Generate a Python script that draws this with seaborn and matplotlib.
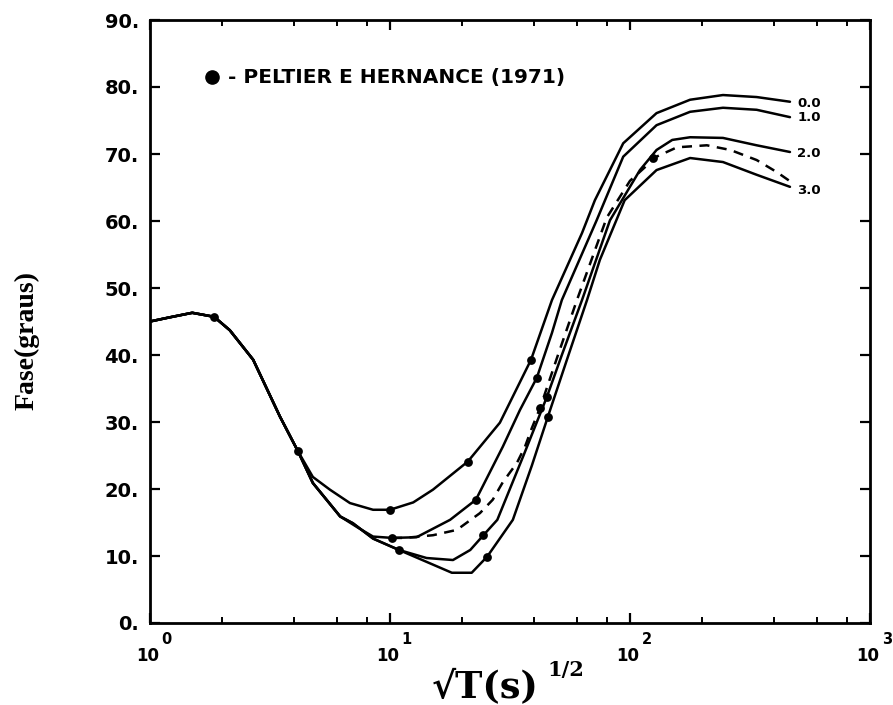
import numpy as np
import pandas as pd
import matplotlib
matplotlib.use("Agg")
import matplotlib.pyplot as plt
import seaborn as sns
from matplotlib.ticker import FixedLocator, FixedFormatter, NullFormatter

# ---------------- data ----------------
common_x = [1.0, 1.2, 1.5, 1.85, 2.15, 2.69, 3.48, 4.14]
common_y = [45.0, 45.6, 46.3, 45.7, 43.7, 39.3, 30.8, 25.6]

c0_x = [4.77, 5.62, 6.81, 8.5, 10.0, 12.5, 15.1, 21.1, 28.7, 38.7, 47.3, 63.1, 71.4, 93.7, 129, 178, 244, 337, 464]
c0_y = [21.8, 19.9, 17.9, 16.9, 16.9, 18.0, 19.9, 24.1, 29.9, 39.3, 48.2, 58.2, 63.1, 71.6, 76.1, 78.1, 78.8, 78.5, 77.8]

c1_x = [4.77, 6.2, 7.3, 8.5, 10.2, 12.9, 17.8, 22.8, 29.5, 34.8, 40.9, 47.3, 52.0, 72.6, 93.7, 129, 178, 244, 337, 464]
c1_y = [20.9, 15.9, 14.3, 12.9, 12.7, 12.8, 15.4, 18.4, 26.3, 31.8, 36.6, 43.3, 48.2, 60.1, 69.6, 74.3, 76.3, 76.9, 76.6, 75.5]

c2_x = [4.77, 6.2, 7.0, 8.5, 10.9, 14.2, 18.3, 21.6, 24.5, 28.0, 36.0, 45.0, 52.0, 63.1, 82.5, 110, 129, 150, 178, 244, 337, 464]
c2_y = [20.9, 15.9, 14.9, 12.6, 10.9, 9.7, 9.4, 10.9, 13.1, 15.4, 25.0, 33.7, 40.0, 48.2, 60.1, 67.6, 70.6, 72.1, 72.5, 72.4, 71.3, 70.3]

c3_x = [4.77, 6.2, 7.0, 8.5, 10.9, 18.1, 21.9, 25.4, 32.5, 39.0, 45.4, 54.6, 66.2, 74.9, 95, 129, 178, 244, 337, 464]
c3_y = [20.9, 15.9, 14.9, 12.6, 10.9, 7.5, 7.5, 9.9, 15.4, 23.5, 30.7, 39.3, 48.2, 54.2, 63.1, 67.6, 69.4, 68.8, 66.9, 65.1]

dash_x = [10.2, 11.5, 15.1, 19.0, 23.7, 26.8, 29.5, 33.8, 36.5, 39.0, 42.2, 50.0, 60.1, 80, 100, 129, 157, 209, 262, 337, 409, 470]
dash_y = [12.7, 12.7, 13.1, 13.9, 16.4, 18.4, 21.0, 23.9, 26.3, 29.1, 32.1, 39.9, 48.2, 60.5, 66.0, 69.6, 71.0, 71.3, 70.6, 69.1, 67.3, 65.8]

pts_x = [1.85, 4.14, 10.0, 21.1, 38.7, 10.2, 22.8, 40.9, 10.9, 24.5, 45.0, 25.4, 45.4, 42.2, 125]
pts_y = [45.7, 25.6, 16.9, 24.1, 39.3, 12.7, 18.4, 36.6, 10.9, 13.1, 33.7, 9.9, 30.7, 32.1, 69.4]

curve_labels = ["0.0", "1.0", "2.0", "3.0"]
label_y = [77.5, 75.5, 70.1, 64.6]

yticks = [0, 10, 20, 30, 40, 50, 60, 70, 80, 90]
ytick_labels = ["0.", "10.", "20.", "30.", "40.", "50.", "60.", "70.", "80.", "90."]
xticks = [1, 10, 100, 1000]
xtick_base = ["10", "10", "10", "10"]
xtick_exp = ["0", "1", "2", "3"]
legend_text = "- PELTIER E HERNANCE (1971)"

# ---------------- plot ----------------
sns.set_theme(style="ticks")
plt.rcParams["font.family"] = ["DejaVu Sans"]
plt.rcParams["text.color"] = "black"
plt.rcParams["axes.labelcolor"] = "black"
plt.rcParams["xtick.color"] = "black"
plt.rcParams["ytick.color"] = "black"

fig = plt.figure(figsize=(8.93, 7.05), dpi=100)
ax = fig.add_axes([150/893, 1-623/705, 720/893, 603/705])

def full(cx, cy):
    return pd.DataFrame({"x": common_x + cx, "y": common_y + cy})

lw = 1.8
for cx, cy in [(c0_x, c0_y), (c1_x, c1_y), (c2_x, c2_y), (c3_x, c3_y)]:
    d = full(cx, cy)
    sns.lineplot(data=d, x="x", y="y", sort=False, estimator=None, color="black", lw=lw, ax=ax)
d = pd.DataFrame({"x": dash_x, "y": dash_y})
sns.lineplot(data=d, x="x", y="y", sort=False, estimator=None, color="black", lw=lw,
             linestyle=(0, (4, 3)), ax=ax)

sns.scatterplot(x=pts_x, y=pts_y, color="black", s=40, edgecolor="black", linewidth=0, ax=ax, zorder=5)

ax.set_xscale("log")
ax.set_xlim(1, 1000)
ax.set_ylim(0, 90)

ax.yaxis.set_major_locator(FixedLocator(yticks))
ax.yaxis.set_major_formatter(FixedFormatter(ytick_labels))
ax.xaxis.set_major_locator(FixedLocator(xticks))
ax.xaxis.set_major_formatter(NullFormatter())
minor = [m * 10**e for e in range(3) for m in (2, 4, 6, 8)]
ax.xaxis.set_minor_locator(FixedLocator(minor))
ax.xaxis.set_minor_formatter(NullFormatter())

ax.tick_params(axis="both", which="both", direction="in", top=True, right=True, colors="black")
ax.tick_params(axis="both", which="major", length=7, width=1.6)
ax.tick_params(axis="x", which="minor", length=4.5, width=1.4)
ax.tick_params(axis="y", which="major", pad=8, labelsize=14)
for lab in ax.get_yticklabels():
    lab.set_fontweight("bold")
for sp in ax.spines.values():
    sp.set_linewidth(2.0)
    sp.set_color("black")
ax.set_xlabel("")
ax.set_ylabel("")
ax.grid(False)

# x tick labels: base "10" with raised exponent
for xt, b, e in zip(xticks, xtick_base, xtick_exp):
    ax.annotate(b, xy=(xt, 0), xycoords=("data", "axes fraction"), xytext=(-1.5, -23.5),
                textcoords="offset points", ha="center", va="center",
                fontsize=12, fontweight="bold", annotation_clip=False)
    ax.annotate(e, xy=(xt, 0), xycoords=("data", "axes fraction"), xytext=(12, -12),
                textcoords="offset points", ha="center", va="center",
                fontsize=10.5, fontweight="bold", annotation_clip=False)

# curve labels at the right
for lab, yy in zip(curve_labels, label_y):
    ax.text(497, yy, lab, fontsize=9.5, fontweight="bold", ha="left", va="center")

# legend
ax.plot([0.086], [0.905], "o", color="black", ms=9.5, transform=ax.transAxes)
ax.text(0.108, 0.905, legend_text, transform=ax.transAxes, fontsize=14.5,
        fontweight="bold", ha="left", va="center")

# axis titles
fig.text(27/893, 1-340/705, "Fase(graus)", rotation=90, ha="center", va="center",
         family=["Liberation Serif", "DejaVu Serif"], fontweight="bold", fontsize=20)
fig.text(432/893, 1-698/705, "√T(s)", ha="left", va="baseline",
         family=["DejaVu Serif"], fontweight="bold", fontsize=26.5)
fig.text(547/893, 1-676/705, "1/2", ha="left", va="baseline",
         family=["DejaVu Serif"], fontweight="bold", fontsize=15)

fig.savefig("out.png", dpi=100, facecolor="white")
